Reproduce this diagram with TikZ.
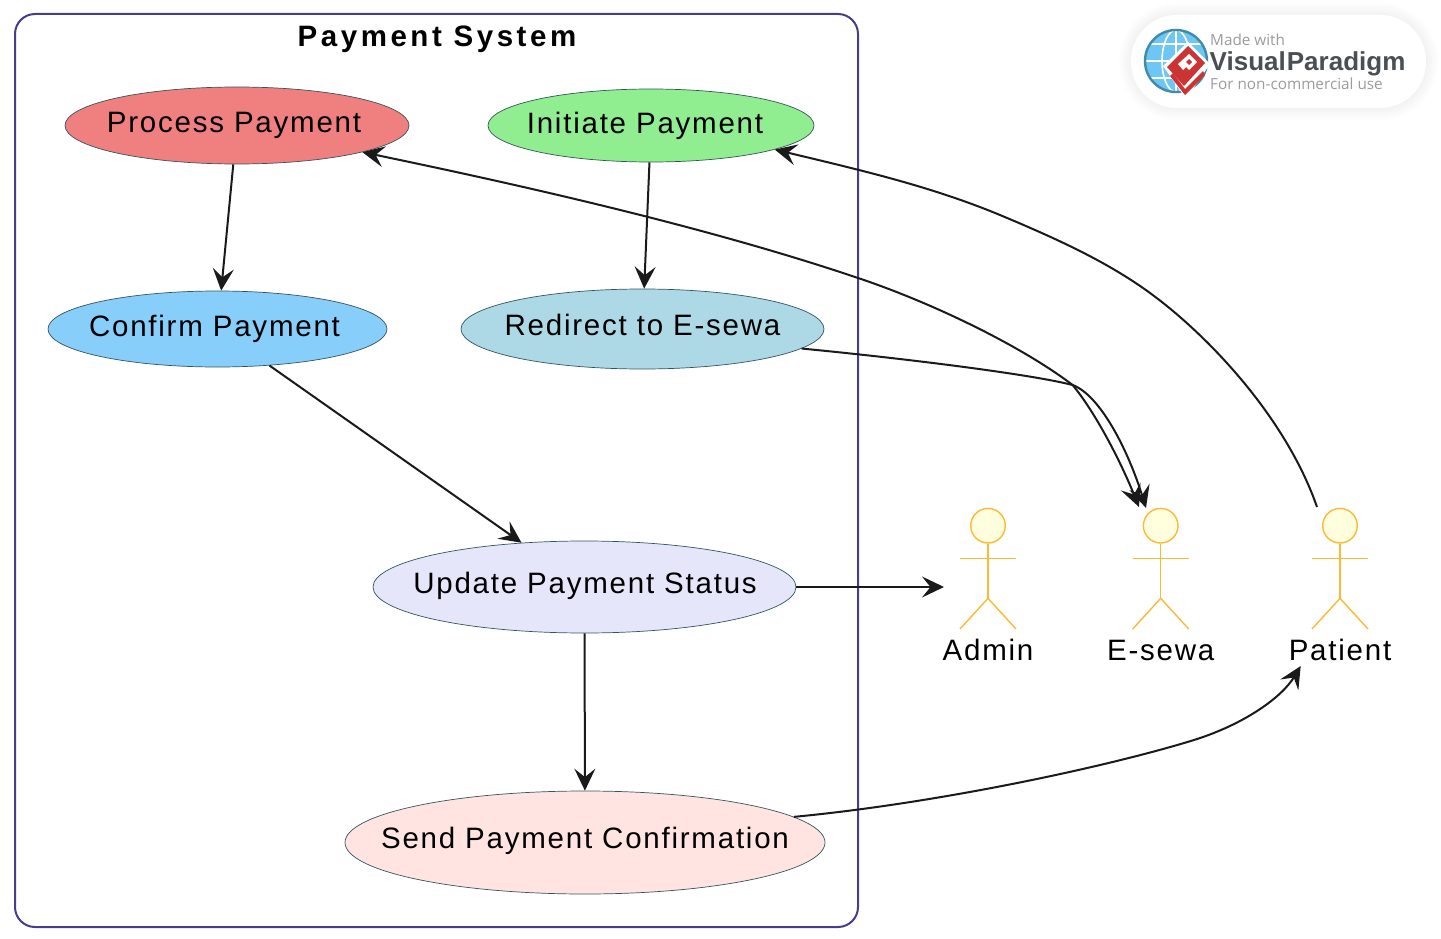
\documentclass[tikz,border=0pt]{standalone}
\usepackage{fontspec}
\setmainfont{Liberation Sans}[LetterSpace=6]
\newfontfamily\titlefont{Liberation Sans}[LetterSpace=12]
\newfontfamily\logofont{Open Sans}
\newfontfamily\logobold{Liberation Sans}[WordSpace=.15]
\usetikzlibrary{shapes.geometric,arrows.meta}
\definecolor{edgeink}{HTML}{1A1A1A}
\definecolor{frameink}{HTML}{483D8B}
\definecolor{actorink}{HTML}{FFB833}
\definecolor{actorfill}{HTML}{FFFFDE}
\definecolor{ucink}{HTML}{33555A}
\definecolor{ucred}{HTML}{F08080}
\definecolor{ucgreen}{HTML}{90EE90}
\definecolor{ucsky}{HTML}{87CEFA}
\definecolor{ucblue}{HTML}{ADD8E6}
\definecolor{uclav}{HTML}{E6E6FA}
\definecolor{ucrose}{HTML}{FFE4E1}
\definecolor{logodark}{HTML}{4B4F54}
\definecolor{logogrey}{HTML}{9A9C9E}
\definecolor{logored}{HTML}{CC3333}
\definecolor{globefill}{HTML}{6EC6F5}
\definecolor{globeink}{HTML}{3F8BA8}
\newcommand{\ltext}[3]{\smash{\raisebox{-#2pt}{\makebox[0pt]{\hspace*{#1pt}#3}}}}
\tikzset{
 x=1pt,y=-1pt,
 ttext/.style={font=\fontsize{29.5}{32}\selectfont,text=black},
 usecase/.style={ellipse,draw=ucink,line width=.7pt,inner sep=0pt,ttext},
 tipstyle/.tip={Stealth[length=22pt,width=21pt,inset=8.5pt]},
 link/.style={draw=edgeink,line width=2pt,-tipstyle},
 bothways/.style={draw=edgeink,line width=2pt,tipstyle-tipstyle},
 actorline/.style={draw=actorink,line width=1.4pt},
 actorhead/.style={circle,draw=actorink,fill=actorfill,line width=1.4pt,minimum size=34.6pt,inner sep=0pt},
 actorname/.style={ttext,inner sep=0pt,anchor=base},
 logotext/.style={inner sep=0pt,anchor=base west},
}
\newcommand{\drawactor}[3]{%
 \node[actorhead] (#1head) at (#2,525.7) {};
 \coordinate (#1hip) at (#2,598.3);
 \draw[actorline] (#1head.south) -- (#1hip);
 \draw[actorline] (#2-28,558.7) -- (#2+28,558.7);
 \draw[actorline] (#2-28,629) -- (#1hip) -- (#2+28,629);
 \node[actorname] (#1name) at (#2,660) {#3};
}
\begin{document}
\begin{tikzpicture}
\useasboundingbox (0,0) rectangle (1441,939);
% logo
\foreach \g in {12,10,8,6,4,2}{
  \fill[black,opacity=.007,rounded corners=46pt+\g pt] (1131-\g,15-\g) rectangle (1426+\g,108+\g);
}
\fill[white,rounded corners=46pt] (1131,15) rectangle (1426,108);
\fill[globefill] (1176,61) circle[radius=31pt];
\begin{scope}
\clip (1176,61) circle[radius=31pt];
\draw[white,line width=1.6pt] (1176,61) ellipse[x radius=14pt,y radius=31pt];
\draw[white,line width=1.6pt] (1176,30) -- (1176,92);
\draw[white,line width=1.6pt] (1145,61) -- (1207,61);
\draw[white,line width=1.6pt] (1145,44) -- (1207,44);
\draw[white,line width=1.6pt] (1145,78) -- (1207,78);
\end{scope}
\draw[globeink,line width=2.4pt] (1176,61) circle[radius=31pt];
\fill[white] (1163,66) -- (1188,42) -- (1210,64) -- (1186,99) -- cycle;
\fill[logored] (1167,67) -- (1188,46) -- (1205,63) -- (1184,86) -- cycle;
\fill[logored] (1170,76) -- (1173,73) -- (1185,89) -- (1203,71) -- (1205,75) -- (1185,95) -- cycle;
\fill[white] (1178,64) -- (1189,54) -- (1197,62) -- (1189,70) -- (1186,67) -- (1183,70) -- cycle;
\fill[logored] (1186,62) -- (1189,59) -- (1192,62) -- (1189,65) -- cycle;
\node[logotext,font=\logofont\fontsize{15.3}{18}\selectfont,text=logogrey] (logoa) at (1210,45.5) {Made with};
\node[logotext,font=\logobold\bfseries\fontsize{26}{30}\selectfont,text=logodark] (logob) at (1209.5,71) {Visual Paradigm};
\node[logotext,font=\logofont\fontsize{15.3}{18}\selectfont,text=logogrey] (logoc) at (1210,89.5) {For non-commercial use};
% frame
\node[draw=frameink,line width=2pt,rounded corners=20pt,minimum width=843pt,minimum height=913pt,inner sep=0pt] (frame) at (436.5,470.5) {};
\node[font=\titlefont\bfseries\fontsize{29.5}{32}\selectfont,inner sep=0pt,anchor=base] (title) at (437,47) {Payment System};
% use cases
\node[usecase,fill=ucred,minimum width=344pt,minimum height=77pt] (proc) at (237,125.5) {\ltext{-6}{7.5}{Process Payment}};
\node[usecase,fill=ucgreen,minimum width=326pt,minimum height=73pt] (init) at (651,125.5) {\ltext{-12}{8.5}{Initiate Payment}};
\node[usecase,fill=ucsky,minimum width=339pt,minimum height=76pt] (conf) at (217.5,329) {\ltext{-6}{7}{Confirm Payment}};
\node[usecase,fill=ucblue,minimum width=363pt,minimum height=80pt] (redir) at (642.5,329) {\ltext{0}{6}{Redirect to E-sewa}};
\node[usecase,fill=uclav,minimum width=423pt,minimum height=92pt] (upd) at (584.5,587) {\ltext{1}{6}{Update Payment Status}};
\node[usecase,fill=ucrose,minimum width=480pt,minimum height=103pt] (send) at (585,842.5) {\ltext{0}{5.5}{Send Payment Confirmation}};
% actors
\drawactor{admin}{988}{Admin}
\drawactor{esewa}{1160.7}{E-sewa}
\drawactor{patient}{1340}{Patient}
\coordinate (adminin) at (944,587);
\coordinate (esewainA) at (1146,508);
\coordinate (esewainB) at (1139,507);
\coordinate (patientin) at (1300.7,666);
\coordinate (patientout) at (1317,507);
% connectors
\draw[link] (proc) -- (conf);
\draw[link] (init) -- (redir);
\draw[link] (conf) -- (upd);
\draw[link] (upd) -- (send);
\draw[link] (upd.east) -- (adminin);
\draw[link] (redir.-7.2) .. controls (900,358) and (1030,374) .. (1072.6,385)
   .. controls (1100,395) and (1128,450) .. (esewainA);
\draw[bothways] (proc.-12.5) .. controls (530,187) and (710,228) .. (858,278)
   .. controls (930,302) and (1020,345) .. (1072.6,385)
   .. controls (1095,412) and (1120,460) .. (esewainB);
\draw[link] (patientout) .. controls (1285,415) and (1205,333) .. (1150,293)
   .. controls (1105,260) and (1050,236) .. (1000,215)
   .. controls (930,186) and (860,170) .. (init.-11);
\draw[link] (send.7) .. controls (940,803) and (1110,766) .. (1194,740)
   .. controls (1245,724) and (1282,697) .. (patientin);
\end{tikzpicture}
\end{document}
